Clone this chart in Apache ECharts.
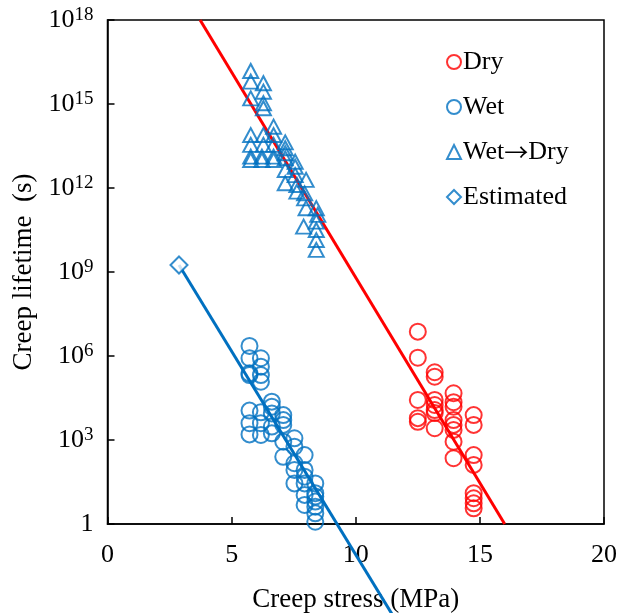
<!DOCTYPE html>
<html>
<head>
<meta charset="utf-8">
<script src="https://cdn.jsdelivr.net/npm/echarts@6/dist/echarts.min.js"></script>
<style>html,body{margin:0;padding:0;background:#fff}#c{width:617px;height:613px}</style>
</head>
<body>
<div id="c"></div>
<script>
// ---- data (x: creep stress MPa, y: log10 of creep lifetime in s) ----
const dryX = [12.5,12.5,13.18,13.18,13.94,13.94,12.5,13.18,13.18,13.18,14.75,12.5,12.5,13.18,13.18,13.94,13.94,13.94,13.94,13.94,14.75,14.75,14.75,14.75,14.75,14.75,14.75,13.94];
const dryLogY = [6.87,5.94,5.42,5.26,4.67,4.35,4.43,4.43,4.25,4.07,3.89,3.78,3.65,3.96,3.42,3.71,3.54,3.36,2.94,2.35,3.54,2.46,2.11,1.10,0.92,0.74,0.56,4.19];

const wetX = [5.72,5.72,6.18,5.72,5.72,6.18,6.18,6.18,5.72,5.72,5.72,6.18,6.18,6.18,6.62,6.62,6.62,6.62,6.62,7.08,7.08,7.08,7.08,7.08,7.53,7.53,7.53,7.53,7.94,7.94,7.94,7.94,7.53,7.94,7.94,8.37,8.37,8.37,8.37,8.37,8.37,8.37];
const wetLogY = [6.36,5.92,5.92,5.38,5.32,5.62,5.32,5.08,4.05,3.60,3.20,3.99,3.60,3.18,4.37,4.19,3.95,3.48,3.24,3.89,3.71,3.54,2.94,2.40,3.06,2.76,2.17,1.93,2.46,1.93,1.69,1.45,1.45,1.04,0.68,1.45,1.10,0.98,0.80,0.62,0.38,0.08];

const wdX = [5.77,5.77,6.28,5.77,6.28,6.28,6.28,5.77,5.77,5.77,6.28,6.28,6.22,6.69,6.69,6.69,7.16,7.16,7.16,7.56,5.77,6.22,6.69,6.69,7.16,7.16,7.16,7.56,7.56,8.0,7.63,7.63,7.94,7.94,8.41,8.0,7.9,8.41,8.41,8.41,8.41,8.47];
const wdLogY = [16.18,15.80,15.74,15.20,15.44,14.85,15.03,13.89,13.54,13.12,13.89,13.54,13.12,14.19,13.89,13.54,13.63,13.42,13.24,12.94,13.0,13.0,13.12,13.0,13.06,12.64,12.17,12.76,12.46,12.29,12.11,11.87,11.81,11.63,11.28,11.28,10.62,10.80,10.50,10.14,9.79,11.04];

const estX = [2.88];
const estLogY = [9.25];

// fitted lines (end points)
const dryLineX = [3.73, 16.0];
const dryLineLogY = [18, 0];
const wetLineX = [2.88, 11.62];
const wetLineLogY = [9.25, -3.45];

const xTicks = [0, 5, 10, 15, 20];
const yTickExps = [0, 3, 6, 9, 12, 15, 18];

const RED = '#FF0000';
const BLUE = '#0070C0';
const FONT = '"Liberation Serif", "Times New Roman", serif';

function pts(xs, ls) { return xs.map((x, i) => [x, Math.pow(10, ls[i])]); }

const chart = echarts.init(document.getElementById('c'), null, {renderer: 'canvas'});
chart.setOption({
  animation: false,
  backgroundColor: '#fff',
  textStyle: {fontFamily: FONT, color: '#000'},
  grid: {left: 107.5, right: 13, top: 20, bottom: 89, containLabel: false, outerBoundsMode: 'none',
    show: true, borderColor: '#000', borderWidth: 1.5, backgroundColor: 'transparent'},
  legend: {
    orient: 'vertical', left: 441, top: 44, itemGap: 19, itemWidth: 14, itemHeight: 14,
    formatter: n => n === 'Wet\u2192Dry' ? 'Wet{a|\u2192}Dry' : n,
    textStyle: {fontFamily: FONT, fontSize: 26, color: '#000', padding: [0, 0, 0, -3],
      rich: {a: {fontFamily: '"Noto Sans CJK JP"', fontSize: 24, color: '#000'}}},
    data: [
      {name: 'Dry', icon: 'circle', itemStyle: {color: 'transparent', borderColor: RED, borderWidth: 2}},
      {name: 'Wet', icon: 'circle', itemStyle: {color: 'transparent', borderColor: BLUE, borderWidth: 2}},
      {name: 'Wet\u2192Dry', icon: 'triangle', itemStyle: {color: 'transparent', borderColor: BLUE, borderWidth: 2}},
      {name: 'Estimated', icon: 'diamond', itemStyle: {color: 'transparent', borderColor: BLUE, borderWidth: 2}}
    ]
  },
  xAxis: {
    type: 'value', min: 0, max: 20, interval: 5,
    name: 'Creep stress (MPa)', nameLocation: 'middle', nameGap: 62,
    nameTextStyle: {fontFamily: FONT, fontSize: 27, color: '#000'},
    axisLine: {lineStyle: {color: '#000', width: 1.5}},
    axisTick: {inside: true, length: 7, lineStyle: {color: '#000', width: 1.5}},
    axisLabel: {fontFamily: FONT, fontSize: 26, color: '#000', margin: 18,
      formatter: v => xTicks.includes(v) ? String(v) : ''},
    splitLine: {show: false}
  },
  yAxis: {
    type: 'log', logBase: 10, min: 1, max: 1e18, interval: 3,
    name: 'Creep lifetime  (s)', nameLocation: 'middle', nameGap: 68,
    nameTextStyle: {fontFamily: FONT, fontSize: 27, color: '#000'},
    axisLine: {lineStyle: {color: '#000', width: 1.5}},
    axisTick: {inside: true, length: 7, lineStyle: {color: '#000', width: 1.5}},
    axisLabel: {
      margin: 14, fontFamily: FONT, color: '#000',
      formatter: v => {
        const e = Math.round(Math.log10(v));
        if (!yTickExps.includes(e)) return '';
        return e === 0 ? '{b|1}' : '{b|10}{s|' + e + '}';
      },
      rich: {
        b: {fontFamily: FONT, fontSize: 26, color: '#000', lineHeight: 28},
        s: {fontFamily: FONT, fontSize: 19, color: '#000', verticalAlign: 'top', lineHeight: 28, padding: [0, 0, 10, 0]}
      }
    },
    splitLine: {show: false}
  },
  series: [
    {name: 'DryFit', type: 'line', data: pts(dryLineX, dryLineLogY), symbol: 'none',
      lineStyle: {color: RED, width: 3}, z: 1, silent: true},
    {name: 'WetFit', type: 'line', data: pts(wetLineX, wetLineLogY), symbol: 'none', clip: false,
      lineStyle: {color: BLUE, width: 3}, z: 1, silent: true},
    {name: 'Dry', type: 'scatter', data: pts(dryX, dryLogY), symbol: 'circle', symbolSize: 16,
      itemStyle: {color: 'transparent', borderColor: RED, borderWidth: 2}, z: 3},
    {name: 'Wet', type: 'scatter', data: pts(wetX, wetLogY), symbol: 'circle', symbolSize: 16,
      itemStyle: {color: 'transparent', borderColor: BLUE, borderWidth: 2}, z: 3},
    {name: 'Wet\u2192Dry', type: 'scatter', data: pts(wdX, wdLogY), symbol: 'triangle', symbolSize: [15, 14],
      itemStyle: {color: 'transparent', borderColor: BLUE, borderWidth: 2}, z: 3},
    {name: 'Estimated', type: 'scatter', data: pts(estX, estLogY), symbol: 'diamond', symbolSize: 17,
      itemStyle: {color: '#fff', borderColor: BLUE, borderWidth: 2}, z: 4}
  ]
});
</script>
</body>
</html>
